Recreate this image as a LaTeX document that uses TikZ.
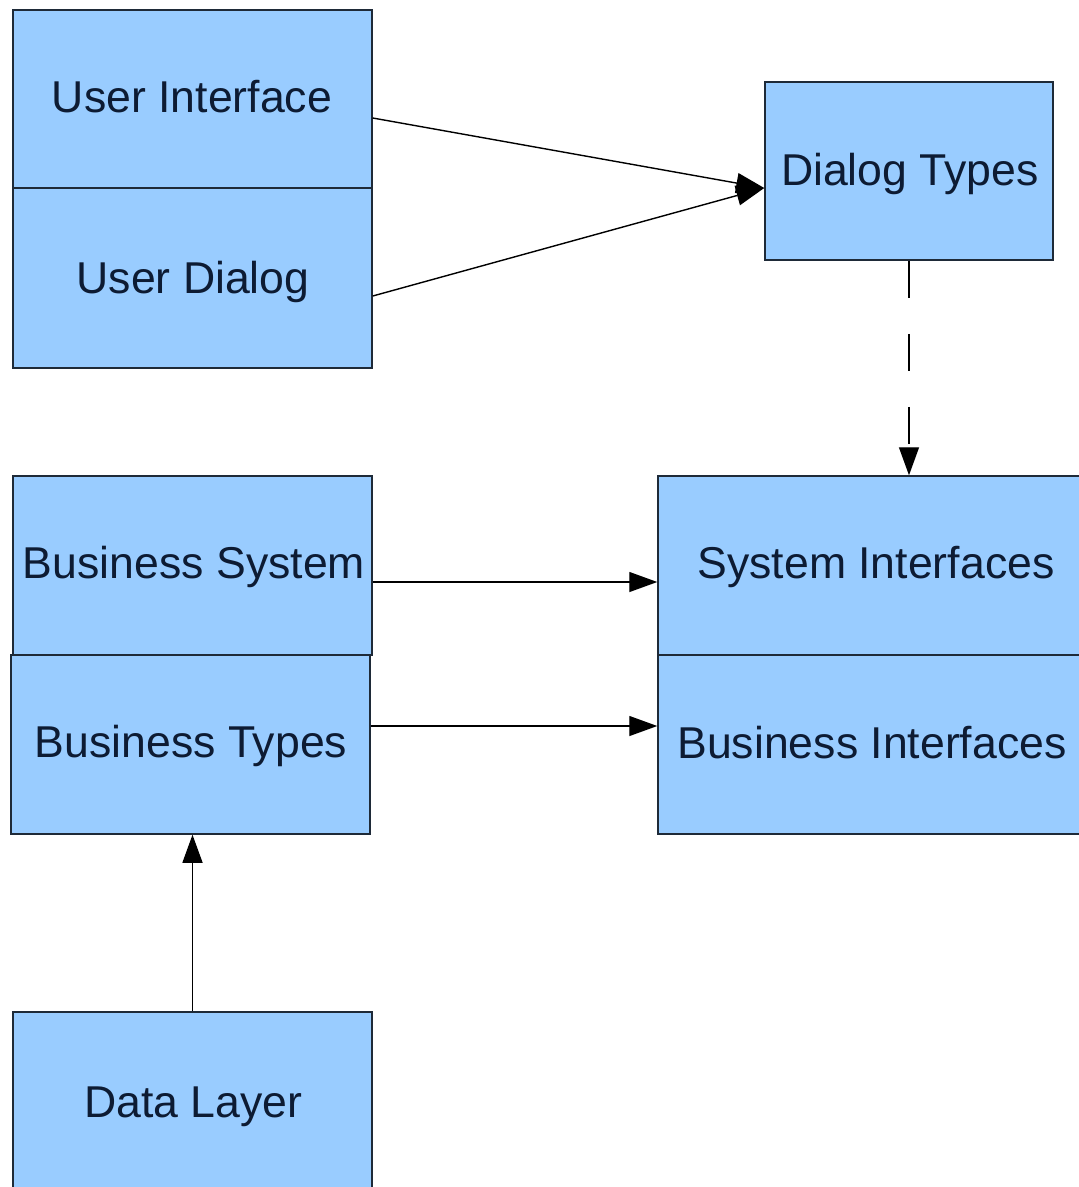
\documentclass[tikz,border=0pt]{standalone}
\usepackage{fontspec}
\setmainfont{Liberation Sans}
\usetikzlibrary{arrows.meta}
\definecolor{boxfill}{HTML}{99CCFF}
\definecolor{boxline}{HTML}{1E2A38}
\definecolor{txt}{HTML}{0D1B33}
\tikzset{
  box/.style={draw=boxline, fill=boxfill, line width=1.5pt, inner sep=0pt, rectangle},
  lbl/.style={anchor=base, inner sep=0pt, text=txt, font=\fontsize{44.6}{50}\selectfont},
  conn/.style={line width=1.4pt, draw=black, -{Triangle[length=28pt, width=20pt]}},
  dconn/.style={conn, dash pattern=on 37pt off 36pt}
}
\begin{document}
\begin{tikzpicture}[x=1pt, y=-1pt]
\clip (0,0) rectangle (1079,1187);
\useasboundingbox (0,0) rectangle (1079,1187);
% boxes
\node[box, minimum width=359pt, minimum height=178pt] (ui) at (192.5,99) {};
\node[box, minimum width=359pt, minimum height=180pt] (ud) at (192.5,278) {};
\node[box, minimum width=288pt, minimum height=178pt] (dt) at (909,171) {};
\node[box, minimum width=428pt, minimum height=179pt] (si) at (872,565.5) {};
\node[box, minimum width=428pt, minimum height=179pt] (bi) at (872,744.5) {};
\node[box, minimum width=359pt, minimum height=179pt] (bs) at (192.5,565.5) {};
\node[box, minimum width=359pt, minimum height=179pt] (bt) at (190.5,744.5) {};
\node[box, minimum width=359pt, minimum height=178pt] (dl) at (192.5,1101) {};
% labels
\node[lbl] (uiT) at (192,112) {User Interface};
\node[lbl] (udT) at (193,293) {User Dialog};
\node[lbl] (dtT) at (910,185) {Dialog Types};
\node[lbl] (bsT) at (194,578) {Business System};
\node[lbl] (btT) at (191,757) {Business Types};
\node[lbl] (siT) at (876,578) {System Interfaces};
\node[lbl] (biT) at (872,758) {Business Interfaces};
\node[lbl] (dlT) at (193.5,1117) {Data Layer};
% connectors
\draw[conn] ([yshift=-19pt]ui.east) -- ([yshift=-17pt]dt.west);
\draw[conn] ([yshift=-18pt]ud.east) -- ([yshift=-17pt]dt.west);
\draw[dconn] (dt.south) -- (dt.south |- si.north);
\draw[conn] ([yshift=-16.5pt]bs.east) -- ([yshift=-16.5pt]si.west);
\draw[conn] ([yshift=18.5pt]bt.east) -- ([yshift=18.5pt]bi.west);
\draw[conn] (dl.north) -- (dl.north |- bt.south);
\end{tikzpicture}
\end{document}
